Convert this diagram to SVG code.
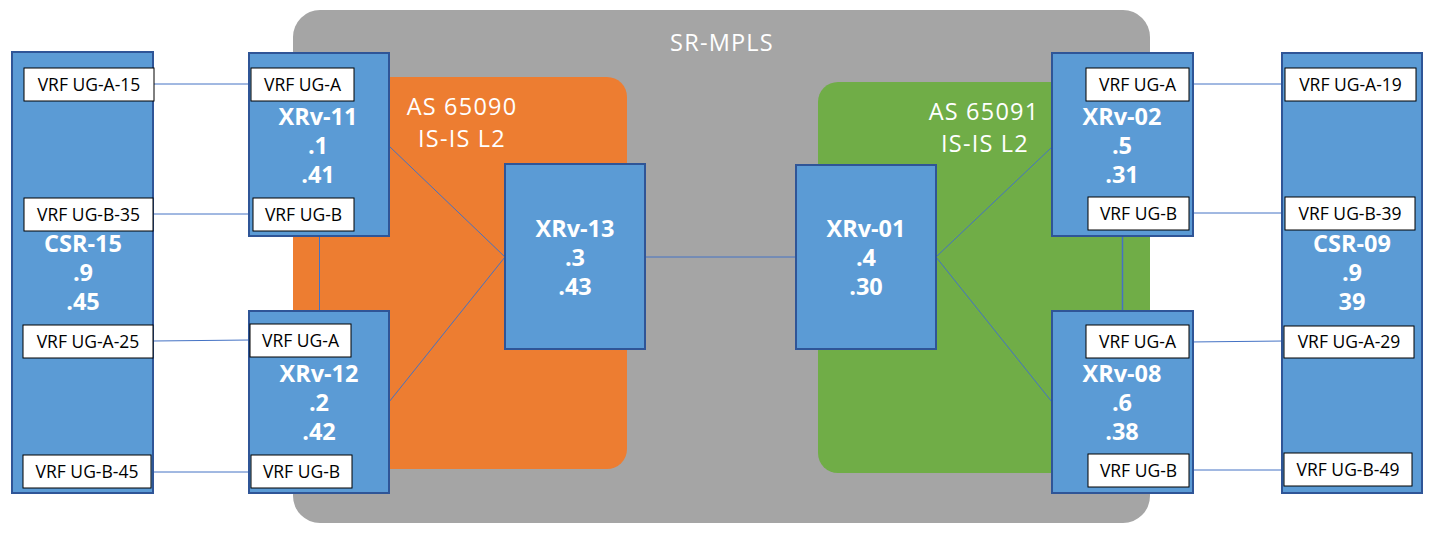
<svg xmlns="http://www.w3.org/2000/svg" width="1431" height="536" viewBox="0 0 1431 536">
<style>
.node{fill:#5B9BD5;stroke:#2F5597;stroke-width:2}
.vrf{fill:#FFFFFF;stroke:#000000;stroke-width:1}
.vt{font-family:"Open Sans","Noto Sans",sans-serif;font-size:17.5px;fill:#000000;text-anchor:middle}
.nt{font-family:"Open Sans","Noto Sans",sans-serif;font-size:23.5px;font-weight:bold;fill:#FFFFFF;text-anchor:middle}
.rt{font-family:"Open Sans","Noto Sans",sans-serif;font-size:23.5px;letter-spacing:1.2px;fill:#FFFFFF;text-anchor:middle}
.ln{stroke:#4472C4;stroke-width:1;fill:none}
</style>
<rect width="1431" height="536" fill="#FFFFFF"/>
<g id="sr-mpls">
<rect x="293" y="10" width="857" height="513" rx="27" fill="#A5A5A5"/>
<text class="rt" x="722" y="51">SR-MPLS</text>
</g>
<g id="as65090">
<rect x="293" y="77" width="334" height="392" rx="20" fill="#ED7D31"/>
<text class="rt" x="462" y="115">AS 65090</text>
<text class="rt" x="462" y="147">IS-IS L2</text>
</g>
<g id="as65091">
<rect x="818" y="82" width="332" height="391" rx="20" fill="#70AD47"/>
<text class="rt" x="984" y="120">AS 65091</text>
<text class="rt" x="985" y="152">IS-IS L2</text>
</g>
<g id="connectors">
<line class="ln" x1="154" y1="84" x2="251" y2="84"/>
<line class="ln" x1="153" y1="214" x2="253" y2="214"/>
<line class="ln" x1="153" y1="341" x2="250" y2="340"/>
<line class="ln" x1="151" y1="472" x2="251" y2="472"/>
<line class="ln" x1="1189" y1="84" x2="1285" y2="84"/>
<line class="ln" x1="1189" y1="213" x2="1285" y2="213"/>
<line class="ln" x1="1189" y1="342" x2="1284" y2="341"/>
<line class="ln" x1="1189" y1="470" x2="1284" y2="470"/>
<line class="ln" x1="389" y1="146" x2="505" y2="257"/>
<line class="ln" x1="389" y1="402" x2="505" y2="257"/>
<line class="ln" x1="645" y1="257" x2="796" y2="257"/>
<line class="ln" x1="936" y1="257" x2="1052" y2="147"/>
<line class="ln" x1="936" y1="257" x2="1052" y2="402"/>
<line class="ln" x1="319.5" y1="236" x2="319.5" y2="311"/>
<line class="ln" x1="1122.5" y1="236" x2="1122.5" y2="311" style="stroke-width:1.5"/>
</g>
<g id="csr-15">
<rect class="node" x="12" y="52" width="141" height="441"/>
<text class="nt" x="83" y="252">CSR-15</text>
<text class="nt" x="83" y="281">.9</text>
<text class="nt" x="83" y="310">.45</text>
<rect class="vrf" x="24" y="68" width="130" height="33"/>
<text class="vt" x="89" y="91">VRF UG-A-15</text>
<rect class="vrf" x="24" y="198" width="129" height="33"/>
<text class="vt" x="88.5" y="221">VRF UG-B-35</text>
<rect class="vrf" x="23" y="325" width="130" height="33"/>
<text class="vt" x="88" y="348">VRF UG-A-25</text>
<rect class="vrf" x="23" y="455" width="128" height="33"/>
<text class="vt" x="87" y="478">VRF UG-B-45</text>
</g>
<g id="xrv-11">
<rect class="node" x="249" y="53" width="140" height="183"/>
<text class="nt" x="318" y="125">XRv-11</text>
<text class="nt" x="318" y="154">.1</text>
<text class="nt" x="318" y="183">.41</text>
<rect class="vrf" x="251" y="68" width="103" height="33"/>
<text class="vt" x="302.5" y="91">VRF UG-A</text>
<rect class="vrf" x="253" y="198" width="101" height="33"/>
<text class="vt" x="303.5" y="221">VRF UG-B</text>
</g>
<g id="xrv-12">
<rect class="node" x="249" y="311" width="140" height="182"/>
<text class="nt" x="319" y="382">XRv-12</text>
<text class="nt" x="319" y="411">.2</text>
<text class="nt" x="319" y="440">.42</text>
<rect class="vrf" x="250" y="324" width="101" height="33"/>
<text class="vt" x="300.5" y="347">VRF UG-A</text>
<rect class="vrf" x="251" y="455" width="101" height="33"/>
<text class="vt" x="301.5" y="478">VRF UG-B</text>
</g>
<g id="xrv-13">
<rect class="node" x="505" y="164" width="140" height="185"/>
<text class="nt" x="575" y="237">XRv-13</text>
<text class="nt" x="575" y="266">.3</text>
<text class="nt" x="575" y="295">.43</text>
</g>
<g id="xrv-01">
<rect class="node" x="796" y="165" width="140" height="184"/>
<text class="nt" x="866" y="237">XRv-01</text>
<text class="nt" x="866" y="266">.4</text>
<text class="nt" x="866" y="295">.30</text>
</g>
<g id="xrv-02">
<rect class="node" x="1052" y="53" width="141" height="183"/>
<text class="nt" x="1122" y="125">XRv-02</text>
<text class="nt" x="1122" y="154">.5</text>
<text class="nt" x="1122" y="183">.31</text>
<rect class="vrf" x="1086" y="68" width="103" height="33"/>
<text class="vt" x="1137.5" y="91">VRF UG-A</text>
<rect class="vrf" x="1088" y="197" width="101" height="33"/>
<text class="vt" x="1138.5" y="220">VRF UG-B</text>
</g>
<g id="xrv-08">
<rect class="node" x="1052" y="311" width="141" height="182"/>
<text class="nt" x="1122" y="382">XRv-08</text>
<text class="nt" x="1122" y="411">.6</text>
<text class="nt" x="1122" y="440">.38</text>
<rect class="vrf" x="1086" y="325" width="103" height="33"/>
<text class="vt" x="1137.5" y="348">VRF UG-A</text>
<rect class="vrf" x="1088" y="454" width="101" height="33"/>
<text class="vt" x="1138.5" y="477">VRF UG-B</text>
</g>
<g id="csr-09">
<rect class="node" x="1282" y="53" width="140" height="440"/>
<text class="nt" x="1352" y="252">CSR-09</text>
<text class="nt" x="1352" y="281">.9</text>
<text class="nt" x="1352" y="310">39</text>
<rect class="vrf" x="1285" y="68" width="131" height="33"/>
<text class="vt" x="1350.5" y="91">VRF UG-A-19</text>
<rect class="vrf" x="1285" y="197" width="130" height="33"/>
<text class="vt" x="1350" y="220">VRF UG-B-39</text>
<rect class="vrf" x="1284" y="326" width="130" height="32"/>
<text class="vt" x="1349" y="348">VRF UG-A-29</text>
<rect class="vrf" x="1284" y="453" width="128" height="33"/>
<text class="vt" x="1348" y="476">VRF UG-B-49</text>
</g>
</svg>
